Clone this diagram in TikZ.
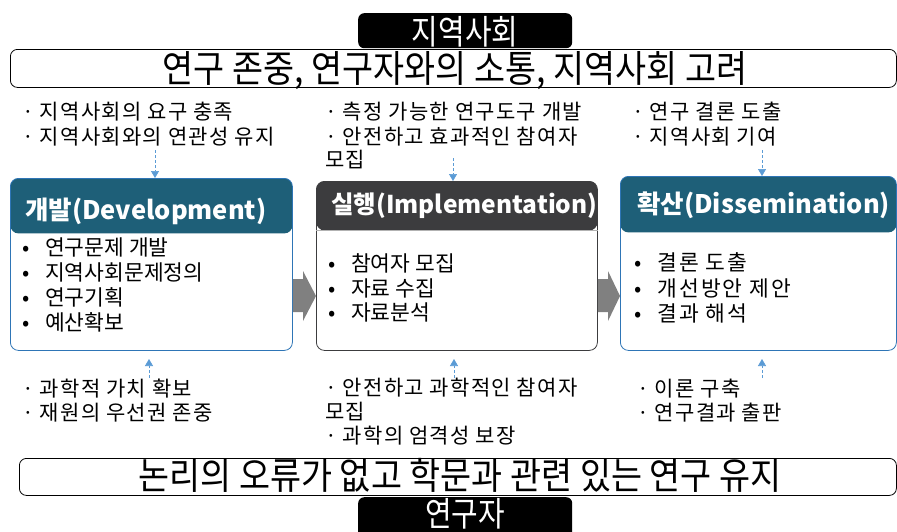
\documentclass[tikz,border=0pt]{standalone}
\usepackage{fontspec}
\setmainfont{Noto Sans CJK KR}
\newfontfamily\krn[FakeStretch=0.9]{Noto Sans CJK KR}
\newfontfamily\krc[FakeStretch=0.85]{Noto Sans CJK KR}
\newfontfamily\krs[LetterSpace=6]{Noto Sans CJK KR}
\newfontfamily\krw[LetterSpace=10]{Noto Sans CJK KR}
\usetikzlibrary{arrows.meta}
\definecolor{tealhead}{HTML}{1E5F78}
\definecolor{darkhead}{HTML}{3C3C3E}
\definecolor{cardline}{HTML}{2E75B6}
\definecolor{arrowblue}{HTML}{5B9BD5}
\definecolor{arrowgray}{HTML}{808080}
\newcommand\bul{\makebox[23pt][l]{•}}
\begin{document}
\begin{tikzpicture}[x=1pt,y=-1pt,
  blackbox/.style={fill=black, rounded corners=6pt, minimum width=214pt, minimum height=35pt, inner sep=0},
  blacktext/.style={text=white, font=\krc\fontsize{34}{36}\selectfont, anchor=base, inner sep=0},
  wbox/.style={draw=black, line width=0.8pt, rounded corners=7pt, minimum height=38pt, inner sep=0},
  bigtext/.style={font=\krn\fontsize{37.5}{40}\selectfont, anchor=base, inner sep=0},
  note/.style={font=\krs\fontsize{21}{24}\selectfont, anchor=base west, inner sep=0},
  item/.style={font=\fontsize{21.5}{24}\selectfont, anchor=base west, inner sep=0},
  item3/.style={font=\krw\fontsize{21.5}{24}\selectfont, anchor=base west, inner sep=0},
  head/.style={font=\bfseries\fontsize{25.5}{28}\selectfont, text=white, anchor=base west, inner sep=0},
  card/.style={draw=#1, line width=0.8pt, rounded corners=8pt, inner sep=0, anchor=north west, fill=white},
  headfill/.style 2 args={path picture={\fill[#1] (path picture bounding box.north west) rectangle ([yshift=-#2]path picture bounding box.north east);}},
  blarrow/.style={draw=arrowblue, densely dashed, line width=0.6pt, -{Triangle[width=8pt,length=7pt,fill=arrowblue]}},
  garrow/.style={fill=arrowgray}
]
\useasboundingbox (0,0) rectangle (897,531);

% top: community
\node[blackbox, anchor=north west] (cbox) at (358,13) {};
\node[blacktext] (ctext) at (465,44) {지역사회};
\node[wbox, minimum width=886pt, anchor=north west] (topbox) at (10,49) {};
\node[bigtext] (toptext) at (455,82) {연구 존중, 연구자와의 소통, 지역사회 고려};

% upper notes
\node[note] (n1a) at (22,119) {· 지역사회의 요구 충족};
\node[note] (n1b) at (22,144) {· 지역사회와의 연관성 유지};
\node[note] (n2a) at (325,119) {· 측정 가능한 연구도구 개발};
\node[note] (n2b) at (325,144) {· 안전하고 효과적인 참여자};
\node[note] (n2c) at (325,167) {모집};
\node[note] (n3a) at (632,119) {· 연구 결론 도출};
\node[note] (n3b) at (632,144) {· 지역사회 기여};

% cards
\node[card=cardline, headfill={tealhead}{55pt}, minimum width=282pt, minimum height=172pt] (c1) at (10,178) {};
\node[card=darkhead, headfill={darkhead}{49pt}, minimum width=281pt, minimum height=169pt] (c2) at (316,181) {};
\node[card=cardline, headfill={tealhead}{56pt}, minimum width=276pt, minimum height=174pt] (c3) at (620,176) {};
\draw[gray!60, line width=0.6pt] ([yshift=-49pt]c2.north west) -- ([yshift=-49pt]c2.north east);

\node[head] (h1) at (25,219) {개발(Development)};
\node[head, font=\bfseries\fontsize{24.5}{28}\selectfont] (h2) at (331,213) {실행(Implementation)};
\node[head] (h3) at (637,213) {확산(Dissemination)};

\node[item] (i1a) at (22,255) {\bul 연구문제 개발};
\node[item] (i1b) at (22,280) {\bul 지역사회문제정의};
\node[item] (i1c) at (22,305) {\bul 연구기획};
\node[item] (i1d) at (22,330) {\bul 예산확보};

\node[item] (i2a) at (328,271) {\bul 참여자 모집};
\node[item] (i2b) at (328,296) {\bul 자료 수집};
\node[item] (i2c) at (328,320) {\bul 자료분석};

\node[item3] (i3a) at (634,270) {\bul 결론 도출};
\node[item3] (i3b) at (634,296) {\bul 개선방안 제안};
\node[item3] (i3c) at (634,321) {\bul 결과 해석};

% gray block arrows between cards
\fill[garrow] (c1.east |- 0,279) -- (303,279) -- (303,271) -- (c2.west |- 0,296) -- (303,321) -- (303,312) -- (c1.east |- 0,312) -- cycle;
\fill[garrow] (c2.east |- 0,279) -- (608,279) -- (608,271) -- (c3.west |- 0,296) -- (608,321) -- (608,312) -- (c2.east |- 0,312) -- cycle;

% small blue arrows
\coordinate (ua1) at (155,150);
\coordinate (ua2) at (453,158);
\coordinate (ua3) at (762,150);
\draw[blarrow] (ua1) -- (c1.north -| ua1);
\draw[blarrow] (ua2) -- (c2.north -| ua2);
\draw[blarrow] (ua3) -- (c3.north -| ua3);
\coordinate (da1) at (149,378);
\coordinate (da2) at (454,378);
\coordinate (da3) at (762,378);
\coordinate (dt1) at (149,359);
\coordinate (dt2) at (454,359);
\coordinate (dt3) at (762,359);
\draw[blarrow] (da1) -- (dt1);
\draw[blarrow] (da2) -- (dt2);
\draw[blarrow] (da3) -- (dt3);

% lower notes
\node[note] (m1a) at (22,396) {· 과학적 가치 확보};
\node[note] (m1b) at (22,420) {· 재원의 우선권 존중};
\node[note] (m2a) at (325,395) {· 안전하고 과학적인 참여자};
\node[note] (m2b) at (325,419) {모집};
\node[note] (m2c) at (325,443) {· 과학의 엄격성 보장};
\node[note] (m3a) at (637,396) {· 이론 구축};
\node[note] (m3b) at (637,420) {· 연구결과 출판};

% bottom: researcher
\node[wbox, minimum width=877pt, minimum height=37pt, anchor=north west] (botbox) at (19,458) {};
\node[bigtext] (bottext) at (460,489) {논리의 오류가 없고 학문과 관련 있는 연구 유지};
\node[blackbox, minimum height=45pt, anchor=north west] (rbox) at (358,497) {};
\node[blacktext] (rtext) at (465,526) {연구자};
\end{tikzpicture}
\end{document}
